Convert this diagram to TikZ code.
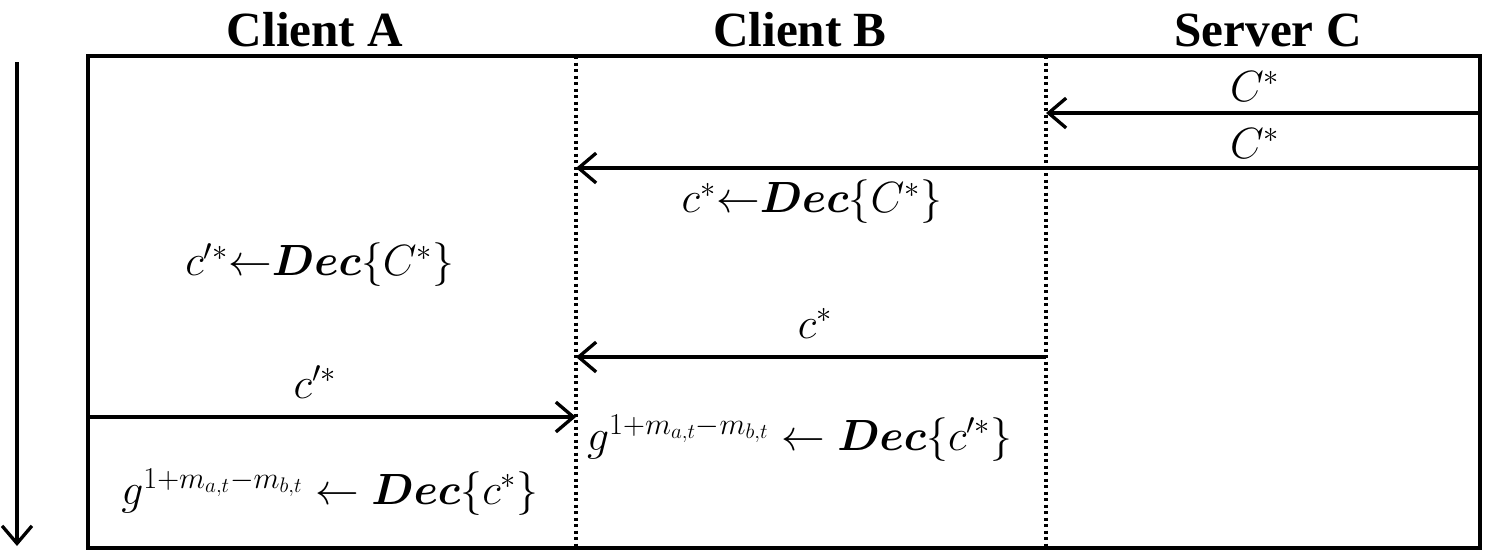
\documentclass[tikz,border=0pt]{standalone}
\usepackage{fontspec}
\setmainfont{Liberation Serif}
\usepackage{bm}
\usetikzlibrary{arrows.meta}
\tikzset{
  frame/.style={line width=2.4pt},
  lifeline/.style={line width=2pt, dash pattern=on 1.8pt off 1.9pt},
  msg/.style={line width=1.9pt, -{Straight Barb[length=10pt,width=17pt,line width=1.9pt]}},
  title/.style={font=\fontsize{28}{30}\selectfont\bfseries, inner sep=0pt},
  lbl/.style={font=\fontsize{24}{26}\selectfont, inner sep=0pt},
}
\begin{document}
\begin{tikzpicture}[x=0.02cm,y=-0.02cm]
\useasboundingbox (0,0) rectangle (1491,552);

% frame and lifelines
\coordinate (tl) at (88,56);
\coordinate (br) at (1480,548);
\coordinate (Btop) at (576,56);  \coordinate (Bbot) at (576,548);
\coordinate (Ctop) at (1046,56); \coordinate (Cbot) at (1046,548);
\draw[lifeline] (Btop) -- (Bbot);
\draw[lifeline] (Ctop) -- (Cbot);
\draw[frame] (tl) rectangle (br);

% time axis
\coordinate (t0) at (17,62);
\coordinate (t1) at (17,546);
\draw[msg] (t0) -- (t1);

% column titles
\node[title] (hA) at (315,30) {Client A};
\node[title] (hB) at (800,30) {Client B};
\node[title] (hC) at (1268,30) {Server C};

% messages
\coordinate (m1s) at (1480,113); \coordinate (m1e) at (1046,113);
\draw[msg] (m1s) -- (m1e);
\node[lbl] (l1) at (1255,86) {$C^{*}$};

\coordinate (m2s) at (1480,168); \coordinate (m2e) at (576,168);
\draw[msg] (m2s) -- (m2e);
\node[lbl] (l2) at (1255,143) {$C^{*}$};

\node[lbl] (d1) at (812,202) {$c^{*}{\leftarrow}\bm{Dec}\{C^{*}\}$};

\node[lbl] (d2) at (320,265) {$c^{\prime *}{\leftarrow}\bm{Dec}\{C^{*}\}$};

\coordinate (m3s) at (1046,357); \coordinate (m3e) at (576,357);
\draw[msg] (m3s) -- (m3e);
\node[lbl] (l3) at (815,323) {$c^{*}$};

\coordinate (m4s) at (88,417); \coordinate (m4e) at (576,417);
\draw[msg] (m4s) -- (m4e);
\node[lbl] (l4) at (315,382) {$c^{\prime *}$};

\node[lbl] (d3) at (800,438) {$g^{1+m_{a,t}-m_{b,t}}\leftarrow\bm{Dec}\{c^{\prime *}\}$};

\node[lbl] (d4) at (330,492) {$g^{1+m_{a,t}-m_{b,t}}\leftarrow\bm{Dec}\{c^{*}\}$};
\end{tikzpicture}
\end{document}
